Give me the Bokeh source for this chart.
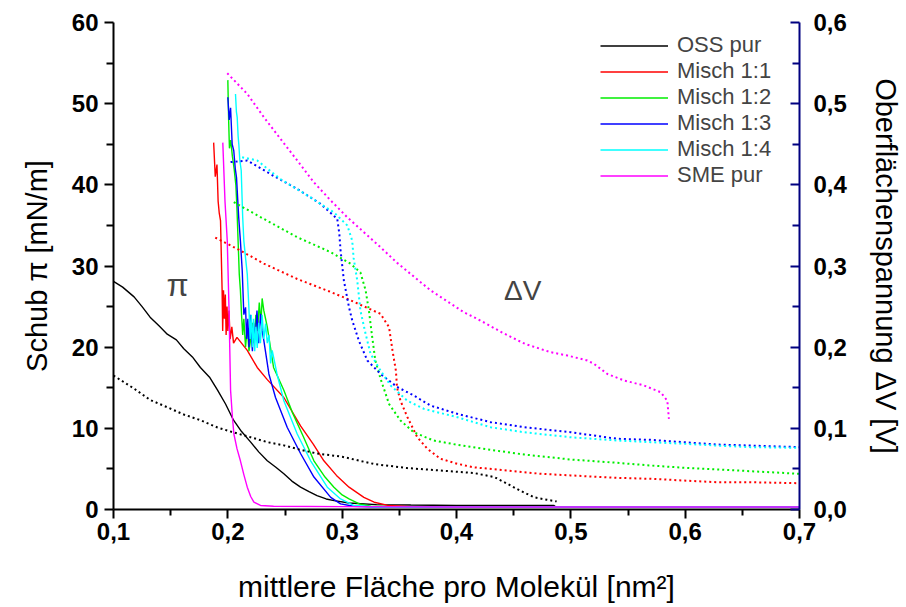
from bokeh.plotting import figure
from bokeh.models import (Range1d, LinearAxis, FixedTicker, CustomJSTickFormatter,
                          Legend, LegendItem, Label)
from bokeh.embed import file_html
from bokeh.resources import INLINE

# ---------------- data ----------------
oss_pi_x = [0.100, 0.108, 0.118, 0.125, 0.132, 0.140, 0.147, 0.155, 0.1615, 0.169, 0.176, 0.184, 0.191, 0.198, 0.205,
            0.212, 0.220, 0.227, 0.2345, 0.242, 0.249, 0.256, 0.2636, 0.271, 0.278, 0.286, 0.293, 0.306, 0.330,
            0.360, 0.400, 0.440, 0.470, 0.485, 0.487]
oss_pi_y = [28.1, 27.4, 26.2, 25.0, 23.7, 22.6, 21.6, 20.9, 19.8, 18.8, 17.5, 16.3, 14.7, 13.0, 11.0,
            9.6, 8.3, 7.1, 6.0, 5.2, 4.4, 3.5, 2.75, 2.2, 1.7, 1.3, 1.1, 0.8, 0.6,
            0.55, 0.5, 0.5, 0.5, 0.5, 0.3]
oss_dv_x = [0.100, 0.118, 0.132, 0.147, 0.1615, 0.176, 0.191, 0.205, 0.220, 0.2345, 0.249, 0.2636, 0.278, 0.300,
            0.328, 0.357, 0.386, 0.415, 0.433, 0.444, 0.456, 0.468, 0.479, 0.4876]
oss_dv_y = [0.165, 0.149, 0.135, 0.126, 0.117, 0.110, 0.101, 0.095, 0.089, 0.083, 0.079, 0.0735, 0.069, 0.065,
            0.056, 0.051, 0.048, 0.045, 0.040, 0.032, 0.023, 0.015, 0.012, 0.010]

m11_pi_x = [0.1876, 0.1890, 0.1905, 0.1915, 0.1925, 0.1936, 0.1945, 0.1950, 0.1955, 0.1962, 0.1970, 0.1978,
            0.1985, 0.1993, 0.2000, 0.2010, 0.2020, 0.2035, 0.2050, 0.2080, 0.2170, 0.2257, 0.2345, 0.2490,
            0.2636, 0.2750, 0.2840, 0.2950, 0.3060, 0.3190, 0.3280, 0.3400, 0.3600, 0.4500, 0.5500, 0.7000]
m11_pi_y = [45.2, 41.0, 42.5, 38.0, 36.5, 35.6, 30.0, 27.0, 22.0, 27.0, 23.5, 26.5,
            21.5, 25.0, 22.0, 24.5, 21.0, 22.5, 20.5, 21.2, 19.6, 17.5, 16.0, 13.8,
            10.3, 8.0, 6.0, 4.2, 2.75, 1.5, 0.9, 0.5, 0.35, 0.3, 0.3, 0.3]
m11_dv_x = [0.189, 0.211, 0.2315, 0.2607, 0.290, 0.3045, 0.3336, 0.341, 0.344, 0.347, 0.348, 0.351, 0.357,
            0.3657, 0.3745, 0.386, 0.4007, 0.415, 0.4444, 0.4736, 0.4998, 0.5407, 0.5698, 0.599, 0.628,
            0.657, 0.700]
m11_dv_y = [0.335, 0.319, 0.303, 0.284, 0.268, 0.2595, 0.241, 0.2246, 0.196, 0.171, 0.150, 0.134, 0.114,
            0.089, 0.0748, 0.0625, 0.0563, 0.052, 0.048, 0.044, 0.042, 0.039, 0.0378, 0.0357, 0.0336,
            0.0336, 0.0324]

m12_pi_x = [0.2000, 0.2007, 0.2014, 0.2025, 0.2040, 0.2055, 0.2070, 0.2080, 0.2090, 0.2100, 0.2110, 0.2120,
            0.2130, 0.2140, 0.2155, 0.2170, 0.2185, 0.2200, 0.2215, 0.2230, 0.2245, 0.2260, 0.2275, 0.2290,
            0.2300, 0.2315, 0.2330, 0.2345, 0.2400, 0.2490, 0.2563, 0.2660, 0.2753, 0.2850, 0.2928, 0.3000,
            0.3060, 0.3150, 0.3250, 0.3500, 0.4500, 0.5500, 0.7000]
m12_pi_y = [52.9, 48.0, 44.5, 45.5, 43.5, 42.0, 40.0, 37.0, 33.0, 29.0, 27.0, 24.0,
            21.5, 23.5, 20.0, 22.5, 19.5, 21.0, 23.0, 20.5, 24.0, 22.0, 25.5, 23.0,
            26.0, 24.5, 23.5, 22.5, 17.5, 14.7, 12.0, 9.0, 6.0, 4.0, 2.75, 1.8,
            1.3, 0.7, 0.4, 0.3, 0.3, 0.3, 0.3]
m12_dv_x = [0.2052, 0.2315, 0.2607, 0.290, 0.3074, 0.316, 0.3205, 0.3234, 0.3263, 0.329, 0.3336, 0.341,
            0.351, 0.3627, 0.380, 0.4007, 0.4298, 0.459, 0.4998, 0.5407, 0.5698, 0.599, 0.628, 0.657, 0.700]
m12_dv_y = [0.3786, 0.358, 0.3355, 0.317, 0.3027, 0.292, 0.270, 0.245, 0.212, 0.1836, 0.161, 0.130,
            0.1096, 0.095, 0.085, 0.0797, 0.0735, 0.0678, 0.0616, 0.0575, 0.0542, 0.0514, 0.0493, 0.0472, 0.044]

m13_pi_x = [0.2000, 0.2012, 0.2024, 0.2038, 0.2052, 0.2065, 0.2076, 0.2095, 0.2110, 0.2126, 0.2140, 0.2155,
            0.2165, 0.2175, 0.2185, 0.2195, 0.2205, 0.2215, 0.2225, 0.2240, 0.2255, 0.2270, 0.2286, 0.2300,
            0.2315, 0.2359, 0.2417, 0.2520, 0.2636, 0.2753, 0.2900, 0.2986, 0.3100, 0.3300, 0.4500, 0.5500,
            0.7000]
m13_pi_y = [50.8, 48.0, 49.5, 45.0, 44.2, 42.0, 40.9, 36.0, 33.1, 29.4, 24.0, 24.9,
            21.0, 23.5, 20.0, 24.0, 21.5, 19.5, 23.0, 21.0, 24.5, 20.5, 24.1, 22.0,
            20.8, 16.7, 13.8, 10.1, 6.9, 4.0, 1.5, 0.7, 0.4, 0.3, 0.3, 0.3,
            0.3]
m13_dv_x = [0.2024, 0.217, 0.240, 0.2607, 0.281, 0.2957, 0.2975, 0.2986, 0.3015, 0.306, 0.3088, 0.3146,
            0.322, 0.3336, 0.348, 0.3627, 0.3773, 0.4007, 0.4298, 0.459, 0.4998, 0.5407, 0.5698, 0.599,
            0.628, 0.657, 0.700]
m13_dv_y = [0.428, 0.430, 0.411, 0.395, 0.3766, 0.358, 0.340, 0.319, 0.282, 0.249, 0.233, 0.208,
            0.1836, 0.167, 0.151, 0.1404, 0.128, 0.1179, 0.1076, 0.1014, 0.0952, 0.0871, 0.0858, 0.0829,
            0.080, 0.0788, 0.0768]

m14_pi_x = [0.2067, 0.2075, 0.2082, 0.2090, 0.2096, 0.2105, 0.2117, 0.2130, 0.2140, 0.2155, 0.2170, 0.2184,
            0.2195, 0.2205, 0.2215, 0.2225, 0.2235, 0.2245, 0.2257, 0.2270, 0.2285, 0.2300, 0.2315, 0.2330,
            0.2345, 0.2360, 0.2374, 0.2388, 0.2430, 0.2490, 0.2607, 0.2724, 0.2870, 0.2986, 0.3100, 0.3300,
            0.4500, 0.5500, 0.7000]
m14_pi_y = [51.2, 49.0, 48.3, 46.0, 45.0, 43.0, 41.8, 36.0, 33.1, 31.0, 29.0, 24.9,
            21.0, 24.0, 20.0, 23.5, 19.5, 22.5, 19.9, 23.0, 20.5, 24.0, 21.0, 22.9,
            20.5, 21.5, 18.0, 19.6, 16.7, 13.4, 9.3, 6.0, 2.75, 1.3, 0.5, 0.3,
            0.3, 0.3, 0.3]
m14_dv_x = [0.2125, 0.2257, 0.246, 0.2695, 0.2928, 0.3045, 0.3088, 0.310, 0.3132, 0.316, 0.3205, 0.3248,
            0.3336, 0.3424, 0.357, 0.3715, 0.4007, 0.4298, 0.459, 0.4998, 0.5407, 0.5698, 0.599, 0.628,
            0.657, 0.700]
m14_dv_y = [0.434, 0.430, 0.407, 0.387, 0.366, 0.350, 0.331, 0.310, 0.282, 0.245, 0.2164, 0.1918,
            0.171, 0.1528, 0.134, 0.124, 0.1137, 0.1014, 0.0952, 0.089, 0.085, 0.083, 0.081, 0.0788,
            0.0768, 0.076]

sme_pi_x = [0.1956, 0.1975, 0.1995, 0.2010, 0.2024, 0.2040, 0.2053, 0.2080, 0.2110, 0.2140, 0.2170, 0.2200,
            0.2228, 0.2286, 0.2400, 0.3000, 0.4000, 0.5000, 0.6000, 0.7000]
sme_pi_y = [45.2, 38.0, 33.1, 24.9, 14.7, 11.4, 9.3, 7.5, 6.0, 4.3, 2.75, 1.6,
            0.9, 0.5, 0.4, 0.35, 0.3, 0.3, 0.3, 0.3]
sme_dv_x = [0.1995, 0.217, 0.2315, 0.246, 0.2607, 0.2753, 0.290, 0.3045, 0.319, 0.3336, 0.348, 0.3773,
            0.4065, 0.418, 0.440, 0.460, 0.4823, 0.497, 0.5144, 0.5202, 0.532, 0.5465, 0.564, 0.5786,
            0.5844, 0.5858]
sme_dv_y = [0.5375, 0.512, 0.4834, 0.4567, 0.430, 0.403, 0.3807, 0.360, 0.3416, 0.323, 0.304, 0.270,
            0.243, 0.235, 0.218, 0.204, 0.1938, 0.1897, 0.1836, 0.1795, 0.167, 0.159, 0.1528, 0.1445,
            0.134, 0.1117]

series_names = ["OSS pur", "Misch 1:1", "Misch 1:2", "Misch 1:3", "Misch 1:4", "SME pur"]
series_colors = ["#000000", "#FF0000", "#00EE00", "#0000FF", "#00FFFF", "#FF00FF"]

x_ticks = [0.1, 0.2, 0.3, 0.4, 0.5, 0.6, 0.7]
x_minor = [0.15, 0.25, 0.35, 0.45, 0.55, 0.65]
pi_ticks = [0, 10, 20, 30, 40, 50, 60]
pi_minor = [5, 15, 25, 35, 45, 55]
dv_ticks = [0.0, 0.1, 0.2, 0.3, 0.4, 0.5, 0.6]
dv_minor = [0.05, 0.15, 0.25, 0.35, 0.45, 0.55]

# ---------------- figure ----------------
FONT = "Liberation Sans"
p = figure(width=906, height=607, output_backend="svg", toolbar_location=None,
           x_range=Range1d(0.1, 0.7), y_range=Range1d(0, 60),
           min_border_left=113, min_border_right=107, min_border_top=22, min_border_bottom=98)
p.outline_line_color = None
p.xgrid.visible = False
p.ygrid.visible = False
p.extra_y_ranges = {"dv": Range1d(0, 0.6)}

pis = [(oss_pi_x, oss_pi_y), (m11_pi_x, m11_pi_y), (m12_pi_x, m12_pi_y),
       (m13_pi_x, m13_pi_y), (m14_pi_x, m14_pi_y), (sme_pi_x, sme_pi_y)]
dvs = [(oss_dv_x, oss_dv_y), (m11_dv_x, m11_dv_y), (m12_dv_x, m12_dv_y),
       (m13_dv_x, m13_dv_y), (m14_dv_x, m14_dv_y), (sme_dv_x, sme_dv_y)]

items = []
for (xs, ys), col, name in zip(pis, series_colors, series_names):
    r = p.line(xs, ys, line_color=col, line_width=1.4)
    items.append(LegendItem(label=name, renderers=[r]))
for (xs, ys), col in zip(dvs, series_colors):
    p.line(xs, ys, line_color=col, line_width=2, line_dash="2 3", y_range_name="dv")

def style_axis(ax, color="#000000"):
    ax.axis_line_width = 2
    ax.axis_line_color = color
    ax.major_tick_line_color = color
    ax.minor_tick_line_color = color
    ax.major_tick_line_width = 2
    ax.minor_tick_line_width = 2
    ax.major_label_text_font = FONT
    ax.major_label_text_font_style = "bold"
    ax.major_label_text_font_size = "24px"
    ax.major_label_text_color = "#000000"
    ax.axis_label_text_font = FONT
    ax.axis_label_text_font_style = "normal"
    ax.axis_label_text_font_size = "29px"
    ax.axis_label_text_color = "#000000"

fmt = CustomJSTickFormatter(code="return tick.toFixed(1).replace('.', ',');")

xa = p.xaxis[0]
xa.ticker = FixedTicker(ticks=x_ticks, minor_ticks=x_minor)
xa.formatter = fmt
xa.axis_label = "mittlere Fläche pro Molekül [nm²]"
style_axis(xa)
xa.axis_label_text_font_size = "30px"
xa.major_tick_out = 9; xa.major_tick_in = 0
xa.minor_tick_out = 6; xa.minor_tick_in = 0
xa.major_label_standoff = 4
xa.axis_label_standoff = 27

ya = p.yaxis[0]
ya.ticker = FixedTicker(ticks=pi_ticks, minor_ticks=pi_minor)
ya.axis_label = "Schub π [mN/m]"
style_axis(ya)
ya.major_tick_out = 9; ya.major_tick_in = 0
ya.minor_tick_out = 7; ya.minor_tick_in = 0
ya.major_label_standoff = 6
ya.axis_label_standoff = 16

ra = LinearAxis(y_range_name="dv", ticker=FixedTicker(ticks=dv_ticks, minor_ticks=dv_minor),
                formatter=fmt, axis_label="Oberflächenspannung ΔV [V]")
style_axis(ra, "#000080")
ra.major_tick_out = 0; ra.major_tick_in = 9
ra.minor_tick_out = 0; ra.minor_tick_in = 7
ra.major_label_standoff = 14
ra.axis_label_standoff = 20
p.add_layout(ra, "right")

legend = Legend(items=items, location=(487, 321), border_line_color=None,
                background_fill_alpha=0, label_text_font=FONT, label_text_font_size="22px",
                glyph_width=68, glyph_height=25, label_height=25, spacing=0, padding=0, margin=0,
                label_standoff=9)
p.add_layout(legend)

p.add_layout(Label(x=0.156, y=27.6, text="π", text_font=FONT, text_font_size="32px",
                   text_align="center", text_baseline="middle"))
p.add_layout(Label(x=0.458, y=27.0, text="ΔV", text_font=FONT, text_font_size="28px",
                   text_align="center", text_baseline="middle"))

open("out.html", "w").write(file_html(p, INLINE))
